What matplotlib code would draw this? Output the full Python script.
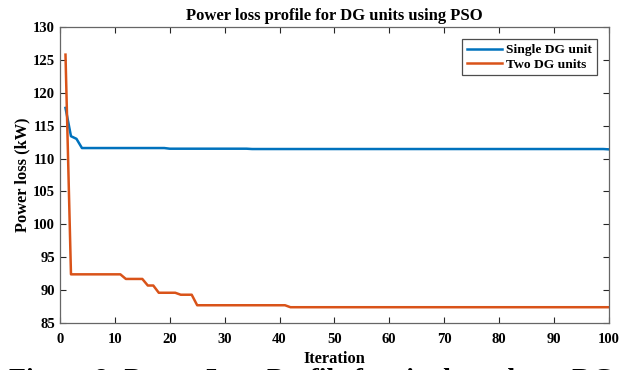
import numpy as np
import matplotlib
matplotlib.use('Agg')
import matplotlib.pyplot as plt

plt.rcParams.update({
    'font.family': 'Liberation Serif',
    'font.weight': 'bold',
    'axes.labelweight': 'bold',
    'axes.titleweight': 'bold',
})

# data (iteration -> loss, kW)
iters = np.arange(1, 101)

single_pts = {1: 117.7, 2: 113.4, 3: 113.0, 4: 111.6, 17: 111.6,
              20: 111.5, 35: 111.45, 100: 111.4}
two_pts = {1: 125.8, 2: 92.4, 11: 92.4, 12: 91.7, 15: 91.7, 16: 90.7,
           17: 90.7, 18: 89.6, 21: 89.6, 22: 89.3, 24: 89.3, 25: 87.7,
           41: 87.7, 42: 87.4, 100: 87.4}


def expand(pts):
    # hold each read value until the next one that was read
    keys = sorted(pts)
    vals = []
    for it in iters:
        k = max(x for x in keys if x <= it)
        vals.append(pts[k])
    return np.array(vals)


single_dg = expand(single_pts)
two_dg = expand(two_pts)

blue = (0.0, 0.447, 0.741)
orange = (0.85, 0.325, 0.098)

fig = plt.figure(figsize=(6.25, 3.7), dpi=100)
ax = fig.add_axes([0.096, 0.127, 0.878, 0.8])

ax.plot(iters, single_dg, color=blue, lw=1.8, label='Single DG unit')
ax.plot(iters, two_dg, color=orange, lw=1.8, label='Two DG units')

ax.set_xlim(0, 100)
ax.set_ylim(85, 130)
ax.set_xticks(np.arange(0, 101, 10))
ax.set_yticks(np.arange(85, 131, 5))
ax.tick_params(direction='in', top=True, right=True, labelsize=10.5,
               colors='0.15', length=4, width=0.8)
ax.tick_params(axis='x', pad=7.5)
for lab in ax.get_xticklabels() + ax.get_yticklabels():
    lab.set_color('black')
for s in ax.spines.values():
    s.set_color('0.4')
    s.set_linewidth(0.9)

ax.set_xlabel('Iteration', fontsize=11.8, labelpad=3)
ax.set_ylabel('Power loss (kW)', fontsize=11.8, labelpad=2)
ax.set_title('Power loss profile for DG units using PSO', fontsize=12, pad=5)

leg = ax.legend(loc='upper right', fontsize=9.7, fancybox=False,
                framealpha=1, borderpad=0.35, handlelength=2.6,
                handletextpad=0.3, labelspacing=0.15, borderaxespad=0.9)
leg.get_frame().set_edgecolor('0.3')
leg.get_frame().set_linewidth(0.9)

# figure caption, cut off by the bottom edge as in the source image
fig.text(0.015, 0.006, 'Figure 8: Power Loss Profile for single and two DG units',
         fontsize=20, fontweight='bold', va='top', ha='left')

fig.savefig('out.png', dpi=100)
